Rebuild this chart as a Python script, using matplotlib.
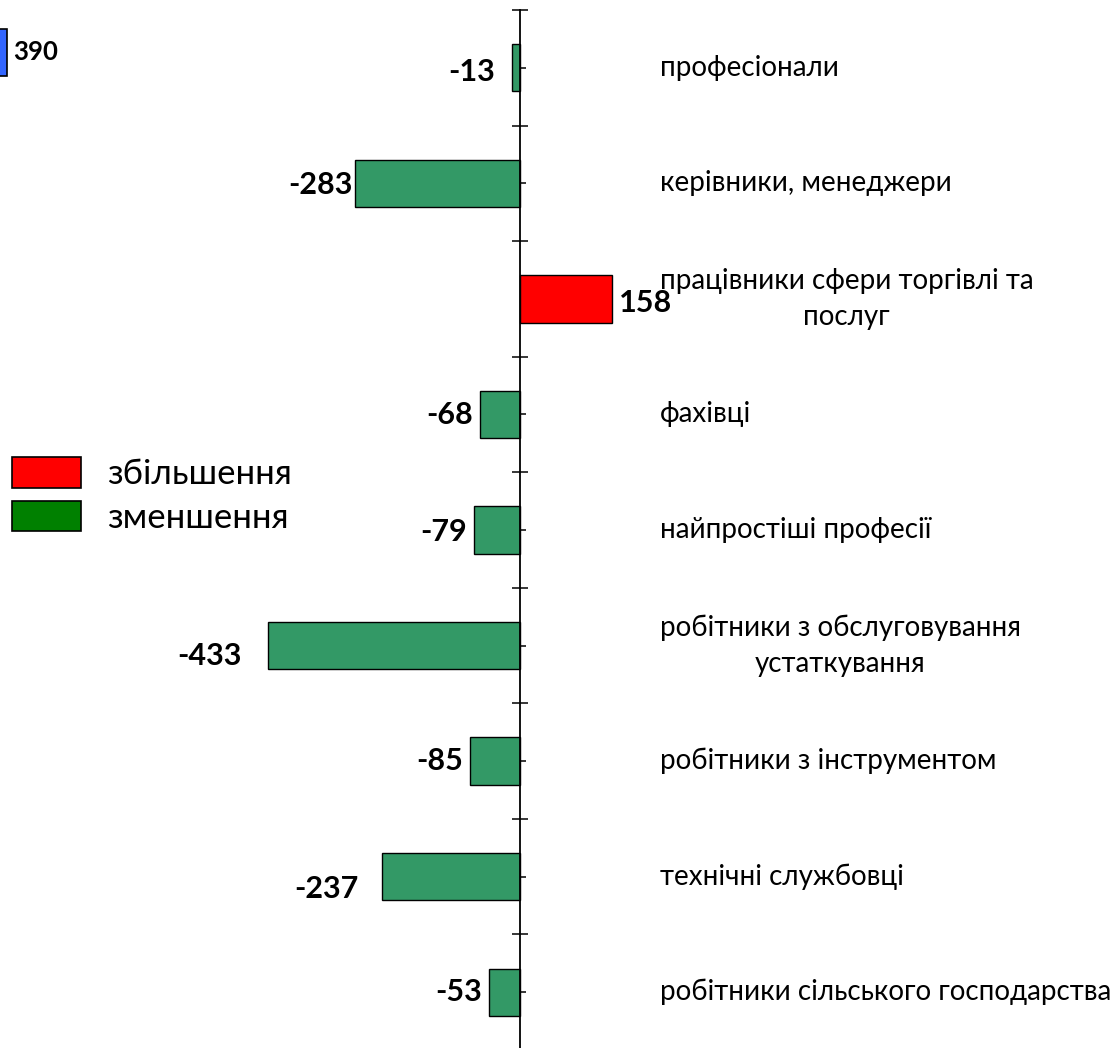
import matplotlib.pyplot as plt
from matplotlib.patches import Patch
from matplotlib.ticker import FixedLocator

# categories top to bottom
categories = [
    'професіонали',
    'керівники, менеджери',
    'працівники сфери торгівлі та\nпослуг',
    'фахівці',
    'найпростіші професії',
    'робітники з обслуговування\nустаткування',
    'робітники з інструментом',
    'технічні службовці',
    'робітники сільського господарства',
]
changes = [-13, -283, 158, -68, -79, -433, -85, -237, -53]
side_value = 390  # partly visible bar at the top-left corner

legend_labels = ['збільшення', 'зменшення']

GREEN_BAR = '#339966'
RED = '#FF0000'
GREEN_LEG = '#008000'
BLUE = '#3366FF'

# manual label nudges in pixels (dx, dy down), like the hand-placed Excel labels
label_nudge = {0: (-10, 4), 1: (4, 2), 2: (0, 4), 3: (0, 1), 4: (0, 2),
               5: (-19, 10), 6: (0, 0), 7: (-16, 12), 8: (0, 0)}

W, H = 1119, 1048
plt.rcParams['font.family'] = ['Lato', 'DejaVu Sans']

fig = plt.figure(figsize=(W / 100, H / 100), dpi=100)
ax = fig.add_axes([0, -2 / H, 1, (H - 10 + 2) / H])

y = list(range(len(categories)))
colors = [RED if v > 0 else GREEN_BAR for v in changes]
ax.barh(y, changes, height=0.41, color=colors, edgecolor='black',
        linewidth=1.0, zorder=3)

ax.set_xlim(-893, 1029)
ax.set_ylim(len(categories) - 0.5, -0.5)

for s in ('top', 'right', 'bottom'):
    ax.spines[s].set_visible(False)
ax.spines['left'].set_position(('data', 0))
ax.spines['left'].set_linewidth(1.3)
ax.spines['left'].set_zorder(4)
ax.set_xticks([])
ax.yaxis.set_major_locator(FixedLocator([i - 0.5 for i in range(len(categories) + 1)]))
ax.yaxis.set_minor_locator(FixedLocator(y))
ax.tick_params(axis='y', which='major', direction='inout', length=12,
               width=1.1, labelleft=False)
ax.tick_params(axis='y', which='minor', direction='in', length=4.5,
               width=1.1, labelleft=False)

px = 0.72  # points per pixel at dpi 100
for i, v in enumerate(changes):
    dx, dy = label_nudge[i]
    if v < 0:
        off = (-7 + dx, -dy)
        ha = 'right'
    else:
        off = (7 + dx, -dy)
        ha = 'left'
    ax.annotate(str(v), (v, i), xytext=(off[0] * px, off[1] * px),
                textcoords='offset points', ha=ha, va='center',
                fontsize=22, fontweight='bold', zorder=5)

for i, lab in enumerate(categories):
    ax.text(240, i, lab, ha='left', va='center', multialignment='center',
            fontsize=20, linespacing=1.5)

# legend
handles = [Patch(facecolor=RED, edgecolor='black', linewidth=1.2),
           Patch(facecolor=GREEN_LEG, edgecolor='black', linewidth=1.2)]
fig.legend(handles, legend_labels, loc='upper left',
           bbox_to_anchor=(12 / W, 1 - 457 / H), frameon=False,
           fontsize=25, handlelength=2.0, handleheight=0.98,
           handletextpad=0.75, labelspacing=0.3, borderpad=0,
           borderaxespad=0)

# side bar at top-left corner
ax2 = fig.add_axes([-100 / W, 1 - 76 / H, 107 / W, 47 / H])
ax2.barh([0], [side_value], height=1.0, color=BLUE, edgecolor='black',
         linewidth=1.2, clip_on=False)
ax2.set_xlim(0, side_value)
ax2.set_ylim(-0.5, 0.5)
ax2.axis('off')
ax2.annotate(str(side_value), (side_value, 0), xytext=(6 * px, 0),
             textcoords='offset points', ha='left', va='center',
             fontsize=18.5, fontweight='bold', annotation_clip=False)

fig.savefig('out.png', dpi=100)
